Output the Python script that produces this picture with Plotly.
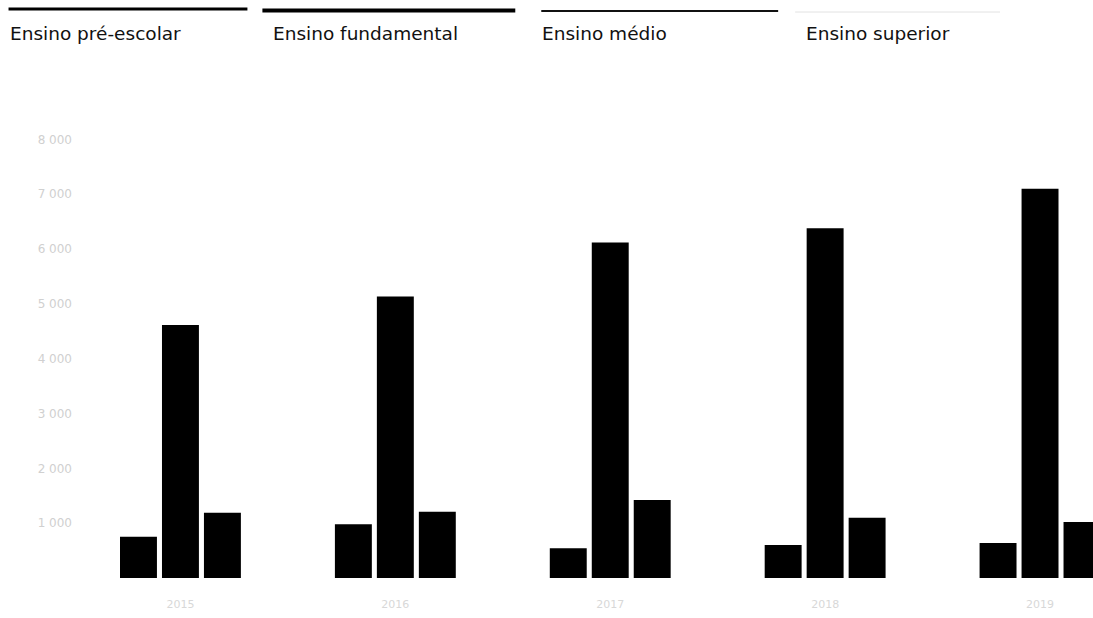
import plotly.graph_objects as go

categories = ["2015", "2016", "2017", "2018", "2019"]
serie_a = [754, 980, 542, 602, 640]
serie_b = [4617, 5133, 6119, 6381, 7099]
serie_c = [1192, 1210, 1423, 1100, 1022]
y_ticks = [1000, 2000, 3000, 4000, 5000, 6000, 7000, 8000]
y_ticktext = ["1 000", "2 000", "3 000", "4 000", "5 000", "6 000", "7 000", "8 000"]
headers = ["Ensino pré-escolar", "Ensino fundamental", "Ensino médio", "Ensino superior"]

W, H = 1093, 618
ML, MT, MB = 72.5, 112, 40
PW = W - ML
PH = H - MT - MB


def px(sx):
    return (sx - ML) / PW


def py(sy):
    return (H - MB - sy) / PH


fig = go.Figure()
for name, vals in [("A", serie_a), ("B", serie_b), ("C", serie_c)]:
    fig.add_trace(go.Bar(x=categories, y=vals, name=name,
                         marker=dict(color="#000000", line=dict(width=0))))

header_x = [7, 271, 540, 804]
line_specs = [(8, 247, 9, 3, "#000000"), (262, 515, 10.5, 4, "#000000"),
              (541, 778, 11, 2, "#111111"), (795, 1000, 12, 1, "#e2e2e2")]
shapes = []
for x0, x1, y, w, c in line_specs:
    shapes.append(dict(type="line", xref="paper", yref="paper",
                       x0=px(x0), x1=px(x1), y0=py(y), y1=py(y),
                       line=dict(color=c, width=w)))
annotations = []
for hx, txt in zip(header_x, headers):
    annotations.append(dict(text=txt, xref="paper", yref="paper",
                            x=px(hx), y=py(33), xanchor="left", yanchor="middle",
                            showarrow=False,
                            font=dict(family="DejaVu Sans", size=18.5, color="#111111")))

n_vis = PW / 215.0
fig.update_layout(
    width=W, height=H,
    margin=dict(l=ML, r=0, t=MT, b=MB),
    paper_bgcolor="white", plot_bgcolor="white",
    barmode="group", bargap=0.414, bargroupgap=0.12,
    showlegend=False,
    shapes=shapes, annotations=annotations,
    xaxis=dict(range=[-0.5, -0.5 + n_vis], showgrid=False, showline=False, zeroline=False,
               ticks="", ticklabelstandoff=18,
               tickfont=dict(family="DejaVu Sans", size=11, color="#d8d8d8")),
    yaxis=dict(range=[0, 8500], showgrid=False, showline=False, zeroline=False,
               tickvals=y_ticks, ticktext=y_ticktext, ticks="",
               tickfont=dict(family="DejaVu Sans", size=12, color="#d0d0d0")),
)
fig.write_html("out.html", config={"displayModeBar": False},
               post_script="document.body.style.margin='0';document.body.style.overflow='hidden';")
